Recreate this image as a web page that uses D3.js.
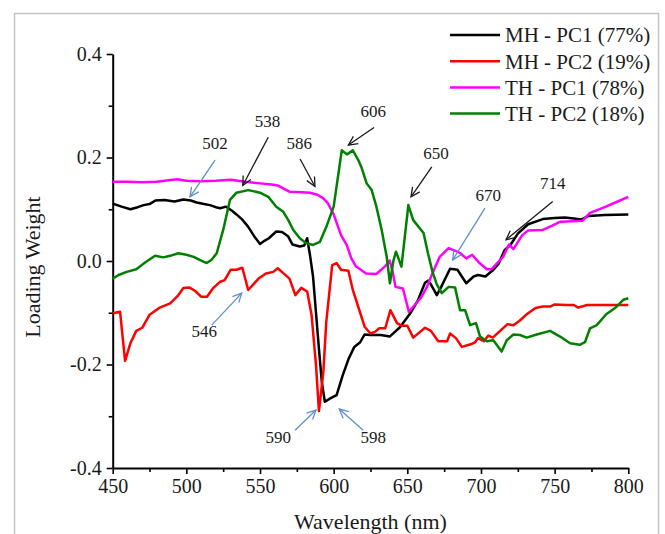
<!DOCTYPE html>
<html>
<head>
<meta charset="utf-8">
<script src="https://cdn.jsdelivr.net/npm/d3@7"></script>
<style>
	body { margin: 0; background: #fff; }
	svg text { font-family: 'Liberation Serif', 'DejaVu Serif', serif !important; fill: #1a1a1a; }
</style>
</head>
<body>
<svg id="chart" width="665" height="534"></svg>
<script>
// MH - PC1 (black)
const mhPc1Wl = [450, 456, 462, 467, 471, 475, 479, 485, 492, 498, 503, 507, 512, 516, 520, 523, 527, 531, 534, 538,
	542, 546, 550, 553, 556, 561, 565, 569, 572, 577, 580, 582, 584, 586, 588, 590, 592, 594, 598, 602, 606, 610, 614,
	618, 621, 625, 632, 638, 645, 652, 657, 662, 664, 666, 670, 673, 679, 684, 690, 695, 698, 703, 708, 712, 716, 720,
	725, 732, 742, 750, 757, 763, 768, 773, 784, 800];
const mhPc1Val = [0.111, 0.105, 0.100, 0.104, 0.108, 0.110, 0.117, 0.118, 0.115, 0.119, 0.117, 0.113, 0.110, 0.108,
	0.104, 0.102, 0.105, 0.097, 0.090, 0.080, 0.066, 0.048, 0.033, 0.039, 0.044, 0.057, 0.056, 0.048, 0.032, 0.028,
	0.030, 0.044, 0.010, -0.030, -0.100, -0.170, -0.235, -0.272, -0.265, -0.259, -0.222, -0.190, -0.166, -0.157,
	-0.142, -0.143, -0.143, -0.146, -0.128, -0.101, -0.077, -0.042, -0.038, -0.045, -0.066, -0.050, -0.015, -0.017,
	-0.043, -0.030, -0.027, -0.030, -0.018, -0.005, 0.021, 0.031, 0.053, 0.071, 0.081, 0.083, 0.084, 0.082, 0.080,
	0.087, 0.089, 0.090];

// MH - PC2 (red)
const mhPc2Wl = [450, 455, 458.4, 462, 466, 470, 475, 482, 489, 494, 498, 502, 506, 510, 514, 518, 523, 526, 530, 534,
	538, 542, 549, 554, 559, 562, 566, 570, 574, 578, 582, 585, 588, 590, 593, 595, 599, 602, 605, 610, 613, 618, 621,
	625, 628, 631, 635, 638.5, 643, 646, 650, 654, 662, 666, 671, 677, 679, 683, 687, 693, 696, 698, 702, 705, 708,
	713, 718, 722, 726, 731, 737, 742, 747, 750, 758, 763, 766, 772, 781, 800];
const mhPc2Val = [-0.101, -0.098, -0.193, -0.159, -0.135, -0.129, -0.104, -0.090, -0.082, -0.068, -0.052, -0.051,
	-0.058, -0.069, -0.069, -0.053, -0.040, -0.037, -0.017, -0.017, -0.013, -0.056, -0.034, -0.024, -0.021, -0.014,
	-0.024, -0.034, -0.066, -0.052, -0.059, -0.104, -0.201, -0.290, -0.214, -0.117, -0.008, -0.004, -0.017, -0.019,
	-0.056, -0.100, -0.127, -0.140, -0.137, -0.130, -0.130, -0.095, -0.120, -0.125, -0.125, -0.148, -0.129, -0.135,
	-0.155, -0.155, -0.140, -0.149, -0.166, -0.161, -0.157, -0.149, -0.155, -0.144, -0.148, -0.135, -0.122, -0.124,
	-0.116, -0.103, -0.091, -0.088, -0.088, -0.084, -0.085, -0.085, -0.090, -0.085, -0.085, -0.085];

// TH - PC1 (magenta)
const thPc1Wl = [450, 460, 470, 480, 488, 494, 500, 510, 520, 530, 540, 550, 558, 562, 566, 570, 578, 584, 589, 593,
	596, 600, 605, 609, 612, 615, 618, 622, 629, 635, 638, 640, 642, 647, 651, 655, 659, 663, 667, 672, 678, 683, 686,
	690, 694, 699, 704, 707, 711, 715, 719, 722, 728, 732, 742, 748, 754, 762, 769, 774, 784, 792, 800];
const thPc1Val = [0.153, 0.153, 0.152, 0.153, 0.156, 0.158, 0.155, 0.154, 0.155, 0.157, 0.153, 0.150, 0.148, 0.146,
	0.140, 0.134, 0.133, 0.132, 0.128, 0.121, 0.112, 0.090, 0.050, 0.030, 0.005, -0.010, -0.016, -0.024, -0.025,
	-0.010, 0.001, -0.020, -0.050, -0.053, -0.098, -0.085, -0.072, -0.052, -0.024, 0.008, 0.025, 0.019, 0.015, 0.005,
	0.012, -0.004, -0.016, -0.016, -0.004, 0.008, 0.032, 0.023, 0.050, 0.059, 0.060, 0.068, 0.076, 0.077, 0.078,
	0.093, 0.104, 0.114, 0.124];

// TH - PC2 (green)
const thPc2Wl = [450, 454, 459.5, 466, 472, 478.7, 484.4, 489, 494.5, 500, 505, 509, 513.8, 517, 520.6, 525, 529.6,
	534, 542, 550, 555.6, 561, 565.8, 569, 572.6, 577, 581, 586, 590.7, 595, 600, 605.5, 609, 613, 616.7, 619, 622.4,
	625.8, 629, 632.6, 636, 638.2, 640.5, 642.3, 646, 650.7, 654, 661, 664, 667, 670, 673.4, 678, 682.4, 685.8, 689.2,
	692.6, 696.6, 699.4, 704, 708.4, 714, 717.5, 722, 726.5, 731, 737.8, 746.9, 753.7, 760.5, 767, 770.6, 774, 778.6,
	785, 791, 796.6, 800];
const thPc2Val = [-0.034, -0.027, -0.021, -0.016, -0.003, 0.010, 0.007, 0.010, 0.015, 0.012, 0.008, 0.002, -0.004,
	0.002, 0.015, 0.060, 0.118, 0.132, 0.137, 0.132, 0.124, 0.105, 0.095, 0.080, 0.060, 0.044, 0.035, 0.031, 0.037,
	0.066, 0.105, 0.214, 0.206, 0.214, 0.195, 0.180, 0.150, 0.137, 0.105, 0.060, 0.008, -0.043, 0.000, 0.018, -0.011,
	0.108, 0.079, 0.054, 0.015, -0.020, -0.045, -0.062, -0.050, -0.051, -0.095, -0.095, -0.124, -0.120, -0.146,
	-0.155, -0.153, -0.175, -0.153, -0.142, -0.143, -0.148, -0.142, -0.135, -0.146, -0.159, -0.162, -0.157, -0.130,
	-0.124, -0.103, -0.091, -0.075, -0.072];

const seriesNames = ['MH - PC1 (77%)', 'MH - PC2 (19%)', 'TH - PC1 (78%)', 'TH - PC2 (18%)'];
const seriesColors = ['#000000', '#ff0000', '#ff00ff', '#008000'];
const seriesWl = [mhPc1Wl, mhPc2Wl, thPc1Wl, thPc2Wl];
const seriesVal = [mhPc1Val, mhPc2Val, thPc1Val, thPc2Val];

const xTicks = [450, 500, 550, 600, 650, 700, 750, 800];
const xMinorTicks = [475, 525, 575, 625, 675, 725, 775];
const yTicks = [-0.4, -0.2, 0, 0.2, 0.4];
const yTickLabels = ['-0.4', '-0.2', '0.0', '0.2', '0.4'];
const yMinorTicks = [-0.3, -0.1, 0.1, 0.3];

// peak annotations: label point, arrow tail, arrow tip (wavelength, loading)
const peakLabels = ['502', '538', '586', '606', '650', '670', '714', '546', '590', '598'];
const peakText = [[519.5, 0.228], [555, 0.271], [576.7, 0.227], [626.9, 0.29], [669.5, 0.208], [705, 0.128],
	[748.7, 0.15], [512.2, -0.135], [562.4, -0.34], [626.9, -0.34]];
const peakTail = [[519.5, 0.195], [555.6, 0.239], [577.2, 0.197], [627.4, 0.258], [666.6, 0.182], [702.7, 0.102],
	[748.7, 0.115], [517.2, -0.124], [573.8, -0.327], [620, -0.327]];
const peakTip = [[502.5, 0.124], [538.3, 0.146], [587.3, 0.144], [610, 0.224], [652.5, 0.124], [680.8, 0.002],
	[717, 0.041], [537.6, -0.062], [588, -0.288], [603.8, -0.286]];
const peakBlue = [true, false, false, false, false, true, false, true, true, true];

const svg = d3.select('#chart');
const plotLeft = 112.7, plotRight = 628.3, plotTop = 54, plotBottom = 468;

const x = d3.scaleLinear().domain([450, 800]).range([plotLeft, plotRight]);
const y = d3.scaleLinear().domain([-0.4, 0.4]).range([plotBottom, plotTop]);

// outer frame
svg.append('rect')
	.attr('x', 14.5).attr('y', 13.5)
	.attr('width', 644).attr('height', 540)
	.attr('fill', 'none').attr('stroke', '#c4c4c4').attr('stroke-width', 1.5);

// axes
svg.append('g')
	.attr('transform', `translate(0,${plotBottom})`)
	.call(d3.axisBottom(x).tickValues(xTicks).tickSize(6).tickPadding(5).tickSizeOuter(0));
svg.append('g')
	.attr('transform', `translate(0,${plotBottom})`)
	.call(d3.axisBottom(x).tickValues(xMinorTicks).tickSize(4).tickFormat('').tickSizeOuter(0))
	.select('.domain').remove();

svg.append('g')
	.attr('transform', `translate(${plotLeft},0)`)
	.call(d3.axisLeft(y).tickValues(yTicks).tickSize(6).tickPadding(5).tickSizeOuter(0)
		.tickFormat((d, i) => yTickLabels[i]));
svg.append('g')
	.attr('transform', `translate(${plotLeft},0)`)
	.call(d3.axisLeft(y).tickValues(yMinorTicks).tickSize(4).tickFormat('').tickSizeOuter(0))
	.select('.domain').remove();

svg.selectAll('.domain').attr('stroke', '#000').attr('stroke-width', 2);
svg.selectAll('.tick line').attr('stroke', '#000').attr('stroke-width', 1.6);
svg.selectAll('.tick text')
	.attr('font-size', 20)
	.attr('fill', '#1a1a1a');

// axis titles
svg.append('text')
	.attr('x', (plotLeft + plotRight) / 2).attr('y', 529)
	.attr('text-anchor', 'middle')
	.attr('font-size', 22)
	.text('Wavelength (nm)');
svg.append('text')
	.attr('transform', `translate(40,${(plotTop + plotBottom) / 2 + 6}) rotate(-90)`)
	.attr('text-anchor', 'middle')
	.attr('font-size', 22)
	.text('Loading Weight');

// series lines
const line = d3.line().x(d => x(d[0])).y(d => y(d[1]));
seriesNames.forEach((name, i) => {
	const pts = seriesWl[i].map((w, j) => [w, seriesVal[i][j]]);
	svg.append('path')
		.datum(pts)
		.attr('d', line)
		.attr('fill', 'none')
		.attr('stroke', seriesColors[i])
		.attr('stroke-width', 2.5)
		.attr('stroke-linejoin', 'round');
});

// annotations
peakLabels.forEach((lab, i) => {
	const col = peakBlue[i] ? '#5f8fcc' : '#1a1a1a';
	const x1 = x(peakTail[i][0]), y1 = y(peakTail[i][1]);
	const x2 = x(peakTip[i][0]), y2 = y(peakTip[i][1]);
	const ang = Math.atan2(y2 - y1, x2 - x1);
	const hl = 10, ha = 0.45;
	const g = svg.append('g').attr('stroke', col).attr('stroke-width', 1.3).attr('fill', 'none');
	g.append('line').attr('x1', x1).attr('y1', y1).attr('x2', x2).attr('y2', y2);
	g.append('path').attr('d', `M${x2 - hl * Math.cos(ang - ha)},${y2 - hl * Math.sin(ang - ha)}` +
		`L${x2},${y2}L${x2 - hl * Math.cos(ang + ha)},${y2 - hl * Math.sin(ang + ha)}`);
	svg.append('text')
		.attr('x', x(peakText[i][0])).attr('y', y(peakText[i][1]))
		.attr('dy', '0.35em')
		.attr('text-anchor', 'middle')
		.attr('font-size', 17)
		.text(lab);
});

// legend
const legend = svg.append('g');
seriesNames.forEach((name, i) => {
	const ly = 35 + i * 26.2;
	legend.append('line')
		.attr('x1', 450).attr('x2', 500).attr('y1', ly).attr('y2', ly)
		.attr('stroke', seriesColors[i]).attr('stroke-width', 2.5);
	legend.append('text')
		.attr('x', 505).attr('y', ly).attr('dy', '0.35em')
		.attr('font-size', 21)
		.text(name);
});
</script>
</body>
</html>
